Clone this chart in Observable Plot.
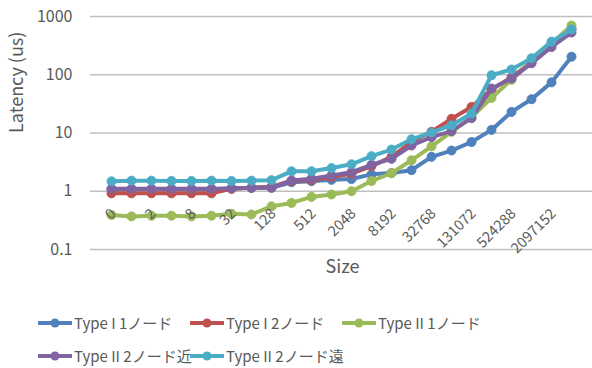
<!DOCTYPE html>
<html>
<head>
<meta charset="utf-8">
<script src="https://cdn.jsdelivr.net/npm/d3@7"></script>
<script src="https://cdn.jsdelivr.net/npm/@observablehq/plot@0.6"></script>
<style>
  body { margin: 0; background: #fff; font-family: "Noto Sans CJK JP", "Open Sans", sans-serif; color: #595959; }
  #wrap { width: 592px; height: 368px; position: relative; overflow: hidden; }
  #legend { position: absolute; left: 38px; top: 306px; width: 554px; display: flex; flex-wrap: wrap; }
  .item { width: 152px; height: 33px; display: flex; align-items: center; font-size: 15px; white-space: nowrap; }
  .item svg { margin-right: 2px; flex: none; }
</style>
</head>
<body>
<div id="wrap"><div id="chart"></div><div id="legend"></div></div>
<script>
const sizes = ["0","1","2","4","8","16","32","64","128","256","512","1024","2048","4096","8192","16384","32768","65536","131072","262144","524288","1048576","2097152","4194304"];
const tickLabels = ["0","2","8","32","128","512","2048","8192","32768","131072","524288","2097152"];
const yTicks = [0.1, 1, 10, 100, 1000];
const seriesNames = ["Type I 1ノード", "Type I 2ノード", "Type II 1ノード", "Type II 2ノード近", "Type II 2ノード遠"];
const seriesColors = ["#4F81BD", "#C0504D", "#9BBB59", "#8064A2", "#4BACC6"];
const typeI_1node = [1.08,1.08,1.08,1.08,1.08,1.08,1.12,1.15,1.15,1.43,1.49,1.57,1.62,1.95,2.05,2.3,3.9,5.0,7.0,11.3,23,38,74,204];
const typeI_2node = [0.92,0.92,0.92,0.92,0.92,0.92,1.1,1.15,1.2,1.5,1.55,1.75,2.0,2.7,3.9,7.0,10.5,17.5,28,56,90,165,330,610];
const typeII_1node = [0.39,0.37,0.38,0.38,0.37,0.38,0.41,0.40,0.55,0.63,0.8,0.88,1.0,1.5,2.05,3.4,5.9,10.5,18.5,40,82,165,345,700];
const typeII_2near = [1.1,1.1,1.1,1.1,1.1,1.1,1.12,1.15,1.15,1.53,1.64,1.86,2.13,2.85,3.6,6.1,8.5,10.8,18,58,86,157,300,530];
const typeII_2far = [1.48,1.52,1.52,1.5,1.5,1.52,1.5,1.52,1.55,2.2,2.2,2.5,2.9,4.0,5.2,7.8,10.2,13.6,21.6,98,123,192,370,600];

const allSeries = [typeI_1node, typeI_2node, typeII_1node, typeII_2near, typeII_2far];
const rows = allSeries.flatMap((vals, s) => vals.map((v, i) => ({series: seriesNames[s], size: sizes[i], value: v})));

const font = '"Noto Sans CJK JP", "Open Sans", sans-serif';
const seriesMarks = seriesNames.flatMap((name, s) => {
  const d = rows.filter(r => r.series === name);
  return [
    Plot.line(d, {x: "size", y: "value", stroke: seriesColors[s], strokeWidth: 4, strokeLinejoin: "round", strokeLinecap: "round"}),
    Plot.dot(d, {x: "size", y: "value", fill: seriesColors[s], r: 4.5, stroke: seriesColors[s], strokeWidth: 1})
  ];
});

const chart = Plot.plot({
  width: 592,
  height: 290,
  marginLeft: 90,
  marginRight: 0,
  marginTop: 16,
  marginBottom: 41,
  style: {fontFamily: font, color: "#595959", background: "#fff"},
  x: {type: "point", domain: sizes, padding: 0.5, axis: null},
  y: {type: "log", domain: [0.1, 1000], axis: null},
  marks: [
    Plot.ruleY(yTicks, {stroke: "#BFBFBF", strokeWidth: 1.5}),
    Plot.axisY(yTicks, {tickSize: 0, tickPadding: 18, tickFormat: d => String(d), fontSize: 16, label: null, fill: "#595959"}),
    Plot.text(["Latency (us)"], {frameAnchor: "left", rotate: -90, dx: -73, fontSize: 18, fill: "#595959"}),
    Plot.text(["Size"], {frameAnchor: "bottom", dy: 23, dx: 1, fontSize: 18, fill: "#595959"}),
    ...seriesMarks,
    Plot.text(tickLabels, {x: d => d, y: () => 1, rotate: -45, textAnchor: "end", dx: 2, dy: 20, fontSize: 14.5, fill: "#595959"})
  ]
});
document.getElementById("chart").appendChild(chart);

const legend = document.getElementById("legend");
seriesNames.forEach((name, s) => {
  const item = document.createElement("div");
  item.className = "item";
  item.innerHTML = `<svg width="34" height="12"><line x1="1" y1="6" x2="33" y2="6" stroke="${seriesColors[s]}" stroke-width="4" stroke-linecap="round"/><circle cx="17" cy="6" r="4.5" fill="${seriesColors[s]}"/></svg><span>${name}</span>`;
  legend.appendChild(item);
});
</script>
</body>
</html>
